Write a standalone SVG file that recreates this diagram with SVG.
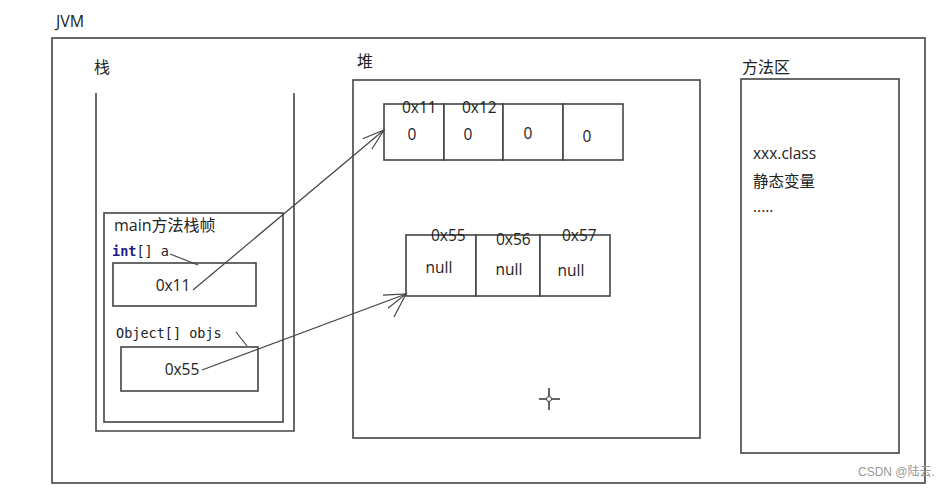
<svg xmlns="http://www.w3.org/2000/svg" width="951" height="489" viewBox="0 0 951 489">
<defs>
<style>
.box{fill:#fff;stroke:#444;stroke-width:1.6}
.t{font-family:"Open Sans","Noto Sans CJK SC",sans-serif;font-size:15.5px;fill:#222}
.h{font-family:"Open Sans","Noto Sans CJK SC",sans-serif;font-size:16px;fill:#222}
.m{font-family:"DejaVu Sans Mono","Liberation Mono",monospace;font-size:13.5px;fill:#222}
.ln{fill:none;stroke:#444;stroke-width:1.2}
.cx{fill:none;stroke:#333;stroke-width:1.5}
</style>
<marker id="arr" markerWidth="24" markerHeight="16" refX="22" refY="8" orient="auto" markerUnits="userSpaceOnUse">
<path d="M0,1 L22,8 L0,15" fill="none" stroke="#444" stroke-width="1.2"/>
</marker>
</defs>
<rect width="951" height="489" fill="#fff"/>
<g id="jvm">
<rect class="box" x="52" y="38" width="873" height="445"/>
<text class="h" x="56" y="27" font-size="17">JVM</text>
</g>
<g id="stack">
<path class="box" d="M96,93 V431 H294 V93" fill="none"/>
<text class="h" x="94" y="73">栈</text>
</g>
<g id="frame">
<rect class="box" x="104" y="213" width="179" height="209"/>
<text class="h" x="114" y="231">main方法栈帧</text>
<text class="m" x="112" y="256"><tspan font-weight="bold" fill="#1b1b8a">int</tspan>[] a</text>
<text class="m" x="116" y="338">Object[] objs</text>
</g>
<g id="varA">
<rect class="box" x="113" y="263" width="143" height="43"/>
<text class="t" x="173" y="291" text-anchor="middle">0x11</text>
</g>
<g id="varObjs">
<rect class="box" x="121" y="347" width="137" height="44"/>
<text class="t" x="182" y="375" text-anchor="middle">0x55</text>
</g>
<g id="heap">
<rect class="box" x="353" y="80" width="347" height="358"/>
<text class="h" x="357" y="67">堆</text>
</g>
<g id="intArray">
<rect class="box" x="384" y="104" width="60" height="56"/>
<rect class="box" x="444" y="104" width="59" height="56"/>
<rect class="box" x="503" y="104" width="60" height="56"/>
<rect class="box" x="563" y="104" width="60" height="56"/>
<text class="t" x="402" y="113">0x11</text>
<text class="t" x="462" y="113">0x12</text>
<text class="t" x="412" y="140" text-anchor="middle">0</text>
<text class="t" x="468" y="140" text-anchor="middle">0</text>
<text class="t" x="528" y="139" text-anchor="middle">0</text>
<text class="t" x="587" y="142" text-anchor="middle">0</text>
</g>
<g id="objArray">
<rect class="box" x="406" y="235" width="70" height="61"/>
<rect class="box" x="476" y="235" width="64" height="61"/>
<rect class="box" x="540" y="235" width="70" height="61"/>
<text class="t" x="431" y="241">0x55</text>
<text class="t" x="496" y="245">0x56</text>
<text class="t" x="562" y="241">0x57</text>
<text class="t" x="439" y="273" text-anchor="middle">null</text>
<text class="t" x="509" y="275" text-anchor="middle">null</text>
<text class="t" x="571" y="276" text-anchor="middle">null</text>
</g>
<g id="methodArea">
<rect class="box" x="741" y="79" width="158" height="374"/>
<text class="h" x="742" y="73">方法区</text>
<text class="t" x="753" y="159">xxx.class</text>
<text class="t" x="753" y="187">静态变量</text>
<text class="t" x="753" y="212">.....</text>
</g>
<g id="connectors">
<path class="ln" d="M170,254 L198,265"/>
<path class="ln" d="M236,332 L247,346"/>
<path class="ln" d="M193,290 L384,130" marker-end="url(#arr)"/>
<path class="ln" d="M202,370 L406,294" marker-end="url(#arr)"/>
<path class="ln" d="M406,294 L394,317"/>
</g>
<g id="cursor">
<path class="cx" d="M539,399 H546 M552,399 H560 M549,388 V396 M549,402 V410"/>
<circle cx="549" cy="399" r="2.5" fill="none" stroke="#333" stroke-width="1"/>
</g>
<text x="858" y="476" font-family="Liberation Sans,Noto Sans CJK SC,sans-serif" font-size="12" fill="#999">CSDN @陆云.</text>
</svg>
